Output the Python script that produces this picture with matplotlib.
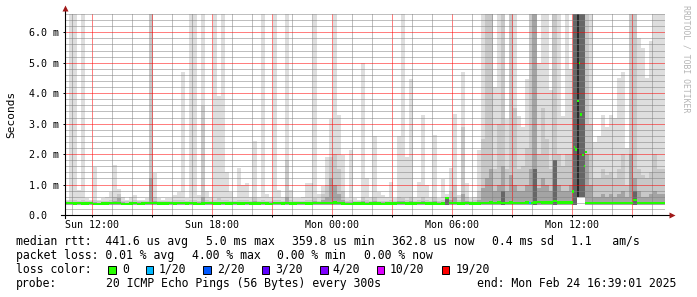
import numpy as np
import matplotlib
matplotlib.use("Agg")
import matplotlib.pyplot as plt
from matplotlib.patches import Rectangle

plt.rcParams['font.family'] = ['DejaVu Sans Mono']

# time axis: hours since Sun 00:00, one smoke column per 12 minutes
t_start = 10.65   # Sun 10:39
t_end = 40.65     # Mon 16:39
col_h = 0.2

# smoke layers (ms): top of lightest, medium and darker grey per column
p_max = [0.5, 6.6, 6.6, 0.82, 6.6, 0.55, 0.5, 1.57, 0.5, 0.55,
         0.6, 0.74, 1.63, 0.86, 0.6, 0.5, 0.6, 0.66, 0.5, 0.5,
         0.55, 6.6, 1.38, 0.55, 0.5, 0.55, 0.55, 0.66, 0.77, 4.7,
         0.55, 6.6, 6.6, 0.65, 6.6, 0.8, 0.6, 6.6, 3.9, 6.6,
         1.41, 0.77, 0.6, 1.54, 1.0, 1.06, 0.6, 2.42, 0.6, 6.6,
         0.7, 0.6, 6.6, 0.83, 0.6, 6.6, 0.83, 0.55, 0.55, 0.6,
         1.05, 1.05, 6.6, 0.7, 0.95, 1.92, 3.14, 6.6, 3.3, 1.96,
         0.55, 2.15, 0.55, 0.5, 5.0, 1.2, 0.6, 2.58, 0.77, 0.66,
         0.6, 1.1, 0.55, 2.58, 6.6, 1.92, 4.48, 0.6, 1.1, 3.3,
         0.99, 0.6, 2.64, 0.55, 1.19, 0.7, 1.54, 3.33, 0.66, 4.7,
         1.05, 0.55, 0.6, 2.15, 6.6, 6.6, 6.6, 4.2, 6.6, 6.6,
         3.14, 6.6, 6.6, 3.24, 2.9, 4.48, 6.6, 6.6, 5.0, 6.6,
         6.6, 4.1, 6.6, 6.6, 3.24, 6.6, 4.8, 6.6, 6.6, 6.6,
         6.6, 6.6, 2.4, 2.6, 3.3, 2.9, 3.3, 3.2, 4.5, 4.7,
         2.2, 6.6, 6.6, 5.8, 5.5, 4.5, 5.7, 6.6, 6.6, 6.6]

p_hi = [0.46, 0.5, 0.5, 0.46, 0.5, 0.46, 0.46, 0.5, 0.45, 0.46,
        0.46, 0.5, 0.6, 0.7, 0.46, 0.45, 0.46, 0.48, 0.46, 0.46,
        0.46, 6.6, 0.6, 0.46, 0.46, 0.46, 0.46, 0.48, 0.5, 0.5,
        0.46, 0.5, 0.5, 0.46, 3.57, 0.5, 0.46, 0.5, 0.55, 0.5,
        0.5, 0.46, 0.46, 0.5, 0.5, 0.5, 0.46, 0.6, 0.46, 0.5,
        0.46, 0.46, 0.5, 0.5, 0.46, 1.82, 0.5, 0.46, 0.46, 0.46,
        0.5, 0.5, 0.55, 0.46, 0.7, 1.0, 1.9, 2.0, 1.5, 0.8,
        0.46, 0.5, 0.46, 0.46, 0.6, 0.5, 0.46, 0.6, 0.46, 0.46,
        0.46, 0.5, 0.46, 0.6, 0.55, 0.5, 0.6, 0.46, 0.5, 0.6,
        0.5, 0.46, 0.6, 0.46, 0.5, 0.6, 0.8, 1.0, 0.5, 2.9,
        0.6, 0.46, 0.5, 0.8, 2.5, 6.6, 6.6, 1.5, 3.0, 6.6,
        1.5, 6.6, 3.5, 1.5, 1.6, 2.2, 6.6, 6.6, 2.0, 3.5,
        2.5, 1.5, 6.6, 2.0, 1.6, 2.0, 2.0, 6.6, 6.6, 6.6,
        6.6, 3.0, 1.2, 1.2, 1.5, 1.3, 1.4, 1.2, 1.5, 2.0,
        1.0, 6.6, 6.6, 1.5, 1.3, 1.2, 1.4, 2.0, 1.5, 1.5]

p_mid = [0.42, 0.43, 0.43, 0.42, 0.43, 0.42, 0.42, 0.43, 0.41, 0.42,
         0.42, 0.43, 0.45, 0.55, 0.42, 0.41, 0.42, 0.42, 0.42, 0.42,
         0.42, 1.2, 0.45, 0.42, 0.42, 0.42, 0.42, 0.42, 0.43, 0.43,
         0.42, 0.43, 0.43, 0.42, 0.6, 0.43, 0.42, 0.43, 0.43, 0.43,
         0.43, 0.42, 0.42, 0.43, 0.43, 0.43, 0.42, 0.45, 0.42, 0.43,
         0.42, 0.42, 0.43, 0.43, 0.42, 0.6, 0.43, 0.42, 0.42, 0.42,
         0.43, 0.43, 0.45, 0.42, 0.5, 0.6, 1.2, 1.0, 0.7, 0.5,
         0.42, 0.43, 0.42, 0.42, 0.45, 0.43, 0.42, 0.45, 0.42, 0.42,
         0.42, 0.43, 0.42, 0.45, 0.45, 0.43, 0.45, 0.42, 0.43, 0.45,
         0.43, 0.42, 0.45, 0.42, 0.43, 0.55, 0.5, 0.6, 0.43, 0.7,
         0.45, 0.42, 0.43, 0.5, 0.9, 1.2, 1.5, 0.8, 1.0, 1.6,
         0.8, 1.3, 1.0, 0.8, 0.8, 1.0, 1.5, 6.6, 0.9, 1.2,
         1.0, 0.8, 1.5, 1.0, 0.8, 0.8, 1.0, 6.6, 6.6, 6.6,
         2.0, 1.0, 0.6, 0.6, 0.7, 0.6, 0.7, 0.6, 0.7, 0.8,
         0.6, 2.0, 1.2, 0.8, 0.6, 0.6, 0.7, 0.8, 0.7, 0.7]

# the darkest smoke (few columns only)
dark_cols = [95, 109, 117, 122, 127, 128, 129, 142]
dark_top = [0.6, 0.8, 1.5, 1.8, 6.6, 6.6, 6.6, 0.8]
core_cols = [128]
core_top = [6.6]
smoke_floor = 0.33
gap_cols = [128, 129]
gap_floor = [0.6, 0.6]

median = [0.39, 0.39, 0.38, 0.39, 0.38, 0.38, 0.39, 0.37, 0.36, 0.38,
          0.38, 0.39, 0.39, 0.39, 0.37, 0.36, 0.38, 0.39, 0.37, 0.38,
          0.39, 0.40, 0.39, 0.38, 0.38, 0.38, 0.39, 0.38, 0.39, 0.39,
          0.38, 0.39, 0.38, 0.37, 0.38, 0.39, 0.39, 0.38, 0.38, 0.39,
          0.38, 0.38, 0.39, 0.38, 0.38, 0.39, 0.38, 0.38, 0.38, 0.39,
          0.38, 0.37, 0.39, 0.39, 0.38, 0.39, 0.38, 0.38, 0.39, 0.39,
          0.38, 0.38, 0.39, 0.39, 0.40, 0.40, 0.40, 0.41, 0.39, 0.38,
          0.37, 0.37, 0.38, 0.38, 0.38, 0.37, 0.38, 0.38, 0.38, 0.37,
          0.38, 0.38, 0.38, 0.39, 0.39, 0.38, 0.38, 0.38, 0.39, 0.39,
          0.38, 0.38, 0.38, 0.37, 0.38, 0.55, 0.39, 0.39, 0.38, 0.38,
          0.39, 0.38, 0.38, 0.38, 0.40, 0.40, 0.41, 0.40, 0.41, 0.40,
          0.40, 0.41, 0.40, 0.40, 0.40, 0.41, 0.40, 0.41, 0.42, 0.41,
          0.41, 0.41, 0.46, 0.41, 0.41, 0.41, 0.41, np.nan, np.nan, np.nan,
          0.40, 0.40, 0.39, 0.40, 0.39, 0.40, 0.40, 0.39, 0.40, 0.39,
          0.40, 0.40, 0.50, 0.40, 0.39, 0.40, 0.39, 0.40, 0.39, 0.40]

# 5-minute medians during the Mon 12:00 burst
burst_t = [36.0, 36.083, 36.167, 36.25, 36.333, 36.417, 36.5, 36.583, 36.667]
burst_med = [0.77, 2.22, 2.15, 3.74, 5.0, 3.3, 1.97, 1.6, 2.08]

loss_cols = [116]   # 1/20 packet loss

xtick_hours = [12, 15, 18, 21, 24, 27, 30, 33, 36, 39]
xtick_labels = ['Sun 12:00', '', 'Sun 18:00', '', 'Mon 00:00', '',
                'Mon 06:00', '', 'Mon 12:00', '']
ytick_vals = [0, 1, 2, 3, 4, 5, 6]
ytick_labels = ['0.0  ', '1.0 m', '2.0 m', '3.0 m', '4.0 m', '5.0 m', '6.0 m']

loss_names = ['0', '1/20', '2/20', '3/20', '4/20', '10/20', '19/20']
loss_colors = ['#26ff00', '#00b8ff', '#0059ff', '#5e00ff', '#7e00ff',
               '#dd00ff', '#ff0000']

W, H = 697, 297
fig = plt.figure(figsize=(W / 100, H / 100), dpi=100)
ax = fig.add_axes([65 / W, (H - 215) / H, 600 / W, 201 / H])

n = len(p_max)
t = t_start + col_h * np.arange(n)
base = np.full(n, smoke_floor)
base[gap_cols] = gap_floor

for vals, c in [(p_max, '#dedede'), (p_hi, '#c8c8c8'), (p_mid, '#a4a4a4')]:
    v = np.array(vals)
    ax.bar(t, v - base, bottom=base, width=col_h, align='edge', color=c,
           linewidth=0, zorder=1)
ax.bar(t[dark_cols], np.array(dark_top) - base[dark_cols], bottom=base[dark_cols],
       width=col_h, align='edge', color='#666666', linewidth=0, zorder=1)
ax.bar(t[core_cols], np.array(core_top) - base[core_cols], bottom=base[core_cols],
       width=col_h * 0.6, align='edge', color='#2a2a2a', linewidth=0, zorder=1)

med = np.array(median)
ok = ~np.isnan(med)
ax.bar(t[ok], 0.08, bottom=med[ok] - 0.04, width=col_h, align='edge',
       color='#22ff00', linewidth=0, zorder=3)
bm = np.array(burst_med)
ax.bar(burst_t, 0.07, bottom=bm - 0.035, width=1 / 12, align='edge',
       color='#22ff00', linewidth=0, zorder=3)
ax.bar(t[loss_cols], 0.08, bottom=med[loss_cols] - 0.04, width=col_h / 2,
       align='edge', color='#00b8ff', linewidth=0, zorder=3)

ax.set_xlim(t_start, t_end)
ax.set_ylim(0, 6.6)
ax.set_xticks(xtick_hours)
ax.set_xticklabels(xtick_labels)
ax.set_xticks([h for h in range(11, 41) if h % 3], minor=True)
ax.set_yticks(ytick_vals)
ax.set_yticklabels(ytick_labels)
ax.set_yticks([k * 0.2 for k in range(1, 34) if k % 5], minor=True)

ax.set_axisbelow(False)
ax.grid(which='major', color=(1, 0, 0, 0.32), linestyle=(0, (1, 1)),
        linewidth=0.72)
ax.grid(which='minor', color=(0.5, 0.5, 0.5, 0.32), linestyle=(0, (1, 1)),
        linewidth=0.72)
ax.tick_params(which='minor', length=0)
ax.tick_params(which='major', length=1.5, width=0.72, color='black', labelsize=7.2)
ax.tick_params(axis='x', which='major', pad=2)
ax.tick_params(axis='y', which='major', pad=24.3)
for lab in ax.get_yticklabels():
    lab.set_horizontalalignment('left')

for s in ax.spines.values():
    s.set_visible(False)
ax.plot([0, 0], [-0.015, 1.02], color='black', lw=0.8, transform=ax.transAxes,
        clip_on=False, zorder=4)
ax.plot([-0.006, 1.008], [0, 0], color='black', lw=0.8, transform=ax.transAxes,
        clip_on=False, zorder=4)
ax.plot([0], [1.03], marker='^', ms=4.5, color='#a01818', mec='none',
        transform=ax.transAxes, clip_on=False, zorder=5)
ax.plot([1.012], [0], marker='>', ms=4.5, color='#a01818', mec='none',
        transform=ax.transAxes, clip_on=False, zorder=5)

fig.text(11 / W, 1 - 114 / H, 'Seconds', rotation=90, ha='center', va='center',
         fontsize=8)
fig.text(686 / W, 1 - 59 / H, 'RRDTOOL / TOBI OETIKER', rotation=270,
         ha='center', va='center', fontsize=5.9, color='#b4b4b4')


def row(x, y, s):
    fig.text((x - 1) / W, 1 - y / H, s, fontsize=8.3, ha='left', va='baseline')


row(16.7, 245, 'median rtt:  441.6 us avg')
row(206.7, 245, '5.0 ms max')
row(293.3, 245, '359.8 us min')
row(393.3, 245, '362.8 us now')
row(493.3, 245, '0.4 ms sd')
row(571.7, 245, '1.1   am/s')

row(16.7, 259, 'packet loss: 0.01 % avg')
row(193.3, 259, '4.00 % max')
row(278.3, 259, '0.00 % min')
row(365.0, 259, '0.00 % now')

row(16.7, 273, 'loss color:')
sq_x = [108.3, 145.7, 203.3, 261.7, 320.0, 376.7, 441.7]
lab_x = [123.3, 160.0, 218.3, 276.0, 333.3, 390.7, 456.7]
for sx, lx, name, c in zip(sq_x, lab_x, loss_names, loss_colors):
    fig.add_artist(Rectangle((sx / W, 1 - 274 / H), 7.7 / W, 7.7 / H,
                             transform=fig.transFigure, facecolor=c,
                             edgecolor='black', linewidth=0.7))
    row(lx, 273, name)

row(16.7, 287, 'probe:')
row(107.3, 287, '20 ICMP Echo Pings (56 Bytes) every 300s')
row(478.3, 287, 'end: Mon Feb 24 16:39:01 2025')

fig.savefig('out.png', dpi=100)
